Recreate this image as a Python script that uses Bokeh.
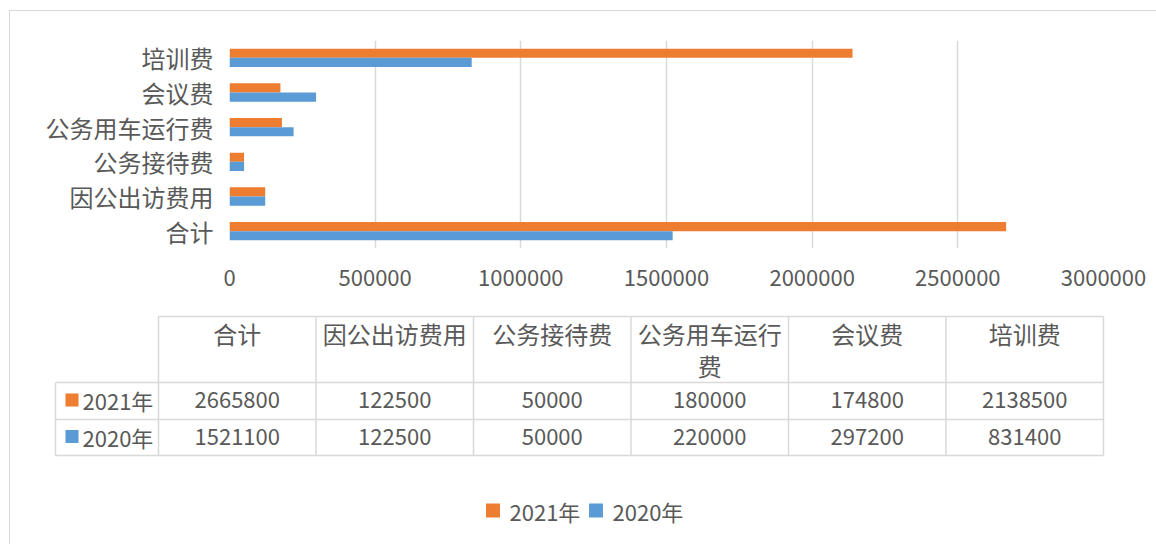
from bokeh.plotting import figure
from bokeh.layouts import column
from bokeh.models import (ColumnDataSource, FactorRange, Range1d, FixedTicker,
                          BasicTickFormatter, Plot)
from bokeh.transform import dodge
from bokeh.core.properties import value
from bokeh.embed import file_html
from bokeh.resources import INLINE

# ---------------- data ----------------
categories = ["合计", "因公出访费用", "公务接待费", "公务用车运行费", "会议费", "培训费"]
series_names = ["2021年", "2020年"]
values_2021 = [2665800, 122500, 50000, 180000, 174800, 2138500]
values_2020 = [1521100, 122500, 50000, 220000, 297200, 831400]
x_ticks = [0, 500000, 1000000, 1500000, 2000000, 2500000, 3000000]

COLORS = ["#ED7D31", "#5B9BD5"]
FONT = "Noto Sans CJK SC"
TXT = "#595959"
GRID = "#d9d9d9"

# outer chart-area border sits at page x=9, y=10 (1px), content starts at (10, 11)
OX, OY = 10, 11
W = 1156 - OX
TOP_H = 300 - OY
BOT_H = 544 - 300

# ---------------- top: bar chart ----------------
src = ColumnDataSource(dict(cat=categories, v2021=values_2021, v2020=values_2020))

p = figure(width=W, height=TOP_H, output_backend="svg", toolbar_location=None,
           y_range=FactorRange(factors=categories, range_padding=0),
           x_range=Range1d(0, 3000000),
           min_border_left=229 - OX, min_border_right=1156 - 1103,
           min_border_top=40 - OY, min_border_bottom=300 - 248)
p.outline_line_color = None
p.background_fill_color = "white"
p.border_fill_color = "white"

bh = 0.265
p.hbar(y=dodge("cat", bh / 2, range=p.y_range), left=0, right="v2021", height=bh,
       source=src, fill_color=COLORS[0], line_color=None)
p.hbar(y=dodge("cat", -bh / 2, range=p.y_range), left=0, right="v2020", height=bh,
       source=src, fill_color=COLORS[1], line_color=None)

p.xaxis.ticker = FixedTicker(ticks=x_ticks)
p.xaxis.formatter = BasicTickFormatter(use_scientific=False)
for ax in (p.xaxis[0], p.yaxis[0]):
    ax.axis_line_color = None
    ax.major_tick_line_color = None
    ax.minor_tick_line_color = None
    ax.major_label_text_font = FONT
    ax.major_label_text_color = TXT
p.xaxis.major_label_text_font_size = "22px"
p.yaxis.major_label_text_font_size = "24px"
p.xaxis.major_label_standoff = 15
p.yaxis.major_label_standoff = 10
p.xgrid.grid_line_color = GRID
p.xgrid.grid_line_width = 1.5
p.ygrid.grid_line_color = None

# ---------------- bottom: data table + legend ----------------
q = figure(width=W, height=BOT_H, output_backend="svg", toolbar_location=None,
           x_range=Range1d(OX, 1156), y_range=Range1d(544, 300),
           x_axis_location=None, y_axis_location=None,
           min_border=0, min_border_left=0, min_border_right=0,
           min_border_top=0, min_border_bottom=0)
q.outline_line_color = None
q.xgrid.visible = False
q.ygrid.visible = False
q.background_fill_color = "white"
q.border_fill_color = "white"

tl, t0, tr = 55, 158, 1103
y_head, y_r1, y_r2, y_bot = 316, 382, 419, 455
n = len(categories)
cw = (tr - t0) / n
col_x = [t0 + i * cw for i in range(n + 1)]

hx0 = [t0, tl, tl, tl] + col_x + [tl]
hy0 = [y_head, y_r1, y_r2, y_bot] + [y_head] * (n + 1) + [y_r1]
hx1 = [tr, tr, tr, tr] + col_x + [tl]
hy1 = [y_head, y_r1, y_r2, y_bot] + [y_bot] * (n + 1) + [y_bot]
q.segment(x0=hx0, y0=hy0, x1=hx1, y1=hy1, line_color=GRID, line_width=1.5)

centers = [t0 + (i + 0.5) * cw for i in range(n)]
head_txt = [c if len(c) <= 6 else c[:6] + "\n" + c[6:] for c in categories]
q.text(x=centers, y=[y_head - 0.5] * n, text=head_txt, text_font=value(FONT),
       text_font_size="24px", text_color=TXT, text_align="center",
       text_baseline="top", text_line_height=0.9)

row_y = [(y_r1 + y_r2) / 2 - 1, (y_r2 + y_bot) / 2 - 1]
for vals, ry in zip([values_2021, values_2020], row_y):
    q.text(x=centers, y=[ry] * n, text=[str(v) for v in vals], text_font=value(FONT),
           text_font_size="22px", text_color=TXT, text_align="center",
           text_baseline="middle")

q.scatter(x=[71.5, 71.5], y=row_y, marker="square", size=13, fill_color=COLORS,
          line_color=None)
q.text(x=[82, 82], y=row_y, text=series_names, text_font=value(FONT),
       text_font_size="22px", text_color=TXT, text_align="left", text_baseline="middle")

# legend
leg_y = 510
q.scatter(x=[492.5, 595.5], y=[leg_y, leg_y], marker="square", size=14,
          fill_color=COLORS, line_color=None)
q.text(x=[509, 612], y=[leg_y, leg_y], text=series_names, text_font=value(FONT),
       text_font_size="22px", text_color=TXT, text_align="left", text_baseline="middle")

if "frame_align" in Plot.properties():
    p.frame_align = False
    q.frame_align = False
    bottom = q
else:
    bottom = column(q)

layout = column(p, bottom, spacing=0, margin=(OY - 1, 0, 0, OX - 1),
                styles={"border-top": "1px solid #d9d9d9",
                        "border-left": "1px solid #d9d9d9"})
open("out.html", "w").write(file_html(layout, INLINE))
